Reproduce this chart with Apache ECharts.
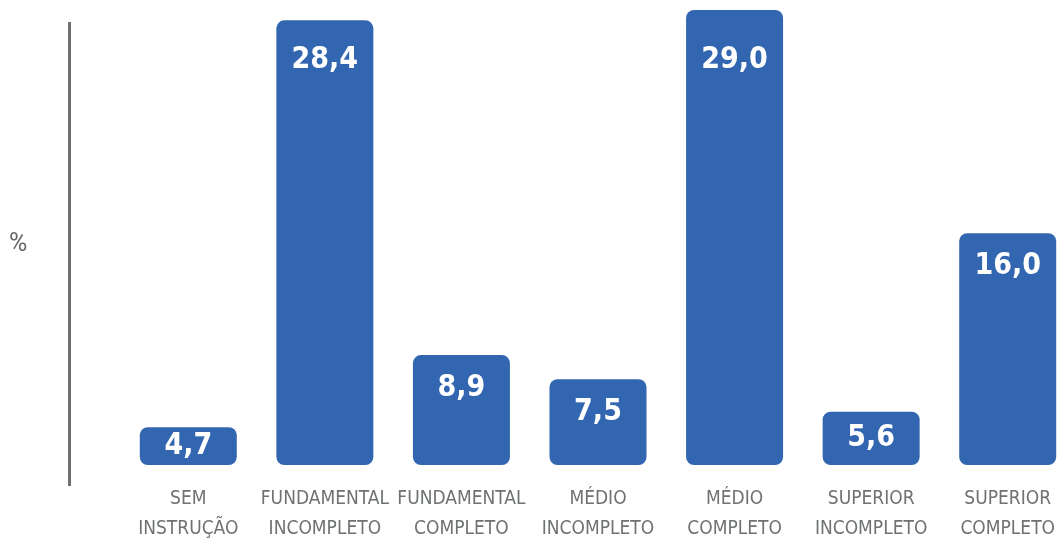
<!DOCTYPE html>
<html>
<head>
<meta charset="utf-8">
<style>
  html, body { margin: 0; padding: 0; background: #ffffff; }
  #chart { width: 1057px; height: 542px; }
</style>
<script src="https://cdn.jsdelivr.net/npm/echarts@6/dist/echarts.min.js"></script>
</head>
<body>
<div id="chart"></div>
<script>
// Escolaridade (%)
const categories = [
  'SEM\nINSTRUÇÃO',
  'FUNDAMENTAL\nINCOMPLETO',
  'FUNDAMENTAL\nCOMPLETO',
  'MÉDIO\nINCOMPLETO',
  'MÉDIO\nCOMPLETO',
  'SUPERIOR\nINCOMPLETO',
  'SUPERIOR\nCOMPLETO'
];
const values = [4.7, 28.4, 8.9, 7.5, 29.0, 5.6, 16.0];
const unitLabel = '%';

const BAR_COLOR = '#3366B0';
const GRAY = '#6f7272';
const NARROW = "'Liberation Sans Narrow', 'DejaVu Sans Condensed', sans-serif";
const Y_MIN = 2.5;

const chart = echarts.init(document.getElementById('chart'), null, { renderer: 'canvas' });

const fmt = v => v.toFixed(1).replace('.', ',');

function buildOption(labelCfg) {
  return {
    animation: false,
    title: {
      text: unitLabel,
      left: 9,
      top: 232,
      padding: 0,
      textStyle: {
        color: '#666666',
        fontSize: 25,
        fontWeight: 'normal',
        fontFamily: 'Roboto, sans-serif'
      }
    },
    grid: {
      left: 120, width: 956, top: 10, bottom: 77,
      containLabel: false,
      outerBoundsMode: 'none'
    },
    xAxis: {
      type: 'category',
      data: categories,
      axisLine: { show: false },
      axisTick: { show: false },
      axisLabel: {
        interval: 0,
        color: GRAY,
        fontFamily: NARROW,
        fontSize: 19,
        lineHeight: 30,
        margin: 19
      }
    },
    yAxis: {
      type: 'value',
      min: Y_MIN,
      max: 29,
      show: false
    },
    series: [{
      type: 'bar',
      barWidth: 97,
      data: values.map((v, i) => ({
        value: v,
        label: labelCfg ? labelCfg[i] : undefined
      })),
      itemStyle: { color: BAR_COLOR, borderRadius: 8 },
      label: {
        show: true,
        position: 'insideTop',
        distance: 20,
        color: '#ffffff',
        fontFamily: NARROW,
        fontWeight: 'bold',
        fontSize: 30,
        formatter: p => fmt(p.value)
      }
    }],
    graphic: [
      {
        type: 'line',
        shape: { x1: 69.5, y1: 22, x2: 69.5, y2: 486 },
        style: { stroke: '#6e7171', lineWidth: 3 }
      }
    ]
  };
}

chart.setOption(buildOption(null));

// Value labels: centred in short bars, otherwise near the top but never
// higher than a common line shared by the tallest bars.
const basePx = chart.convertToPixel({ gridIndex: 0 }, [0, Y_MIN])[1];
const labelCfg = values.map((v, i) => {
  const topPx = chart.convertToPixel({ gridIndex: 0 }, [i, v])[1];
  const h = basePx - topPx;
  if (h < 60) return { position: 'inside', distance: 0 };
  return { position: 'insideTop', distance: Math.max(18, 45 - topPx) };
});
chart.setOption(buildOption(labelCfg));
</script>
</body>
</html>
